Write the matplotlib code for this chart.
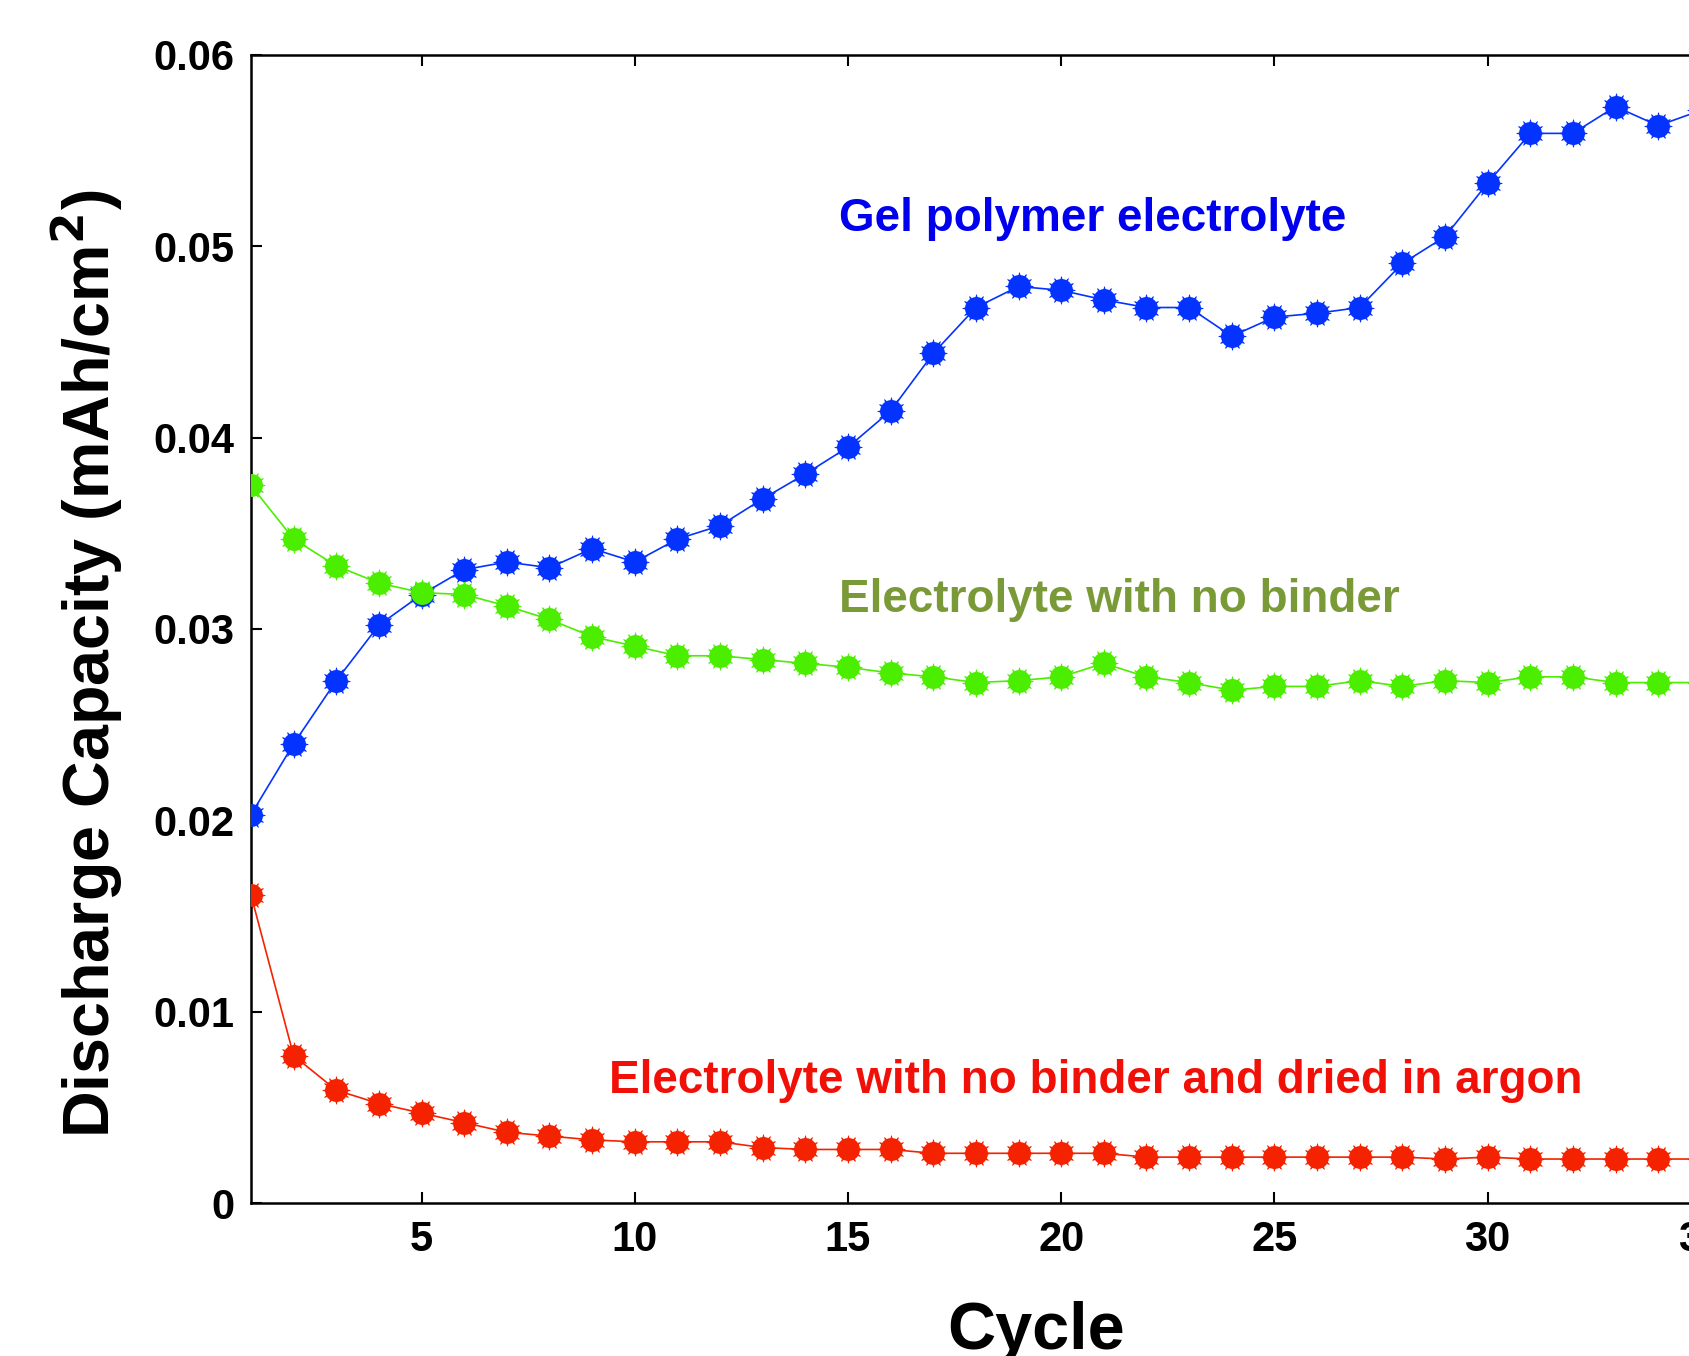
import matplotlib
matplotlib.use('Agg')
import matplotlib.pyplot as plt
from matplotlib.ticker import FixedLocator, FuncFormatter

# data
cycles = list(range(1, 36))
gel = [0.0203, 0.0240, 0.0273, 0.0302, 0.0318, 0.0331, 0.0335, 0.0332, 0.0342, 0.0335,
       0.0347, 0.0354, 0.0368, 0.0381, 0.0395, 0.0414, 0.0444, 0.0468, 0.0479, 0.0477,
       0.0472, 0.0468, 0.0468, 0.0453, 0.0463, 0.0465, 0.0468, 0.0491, 0.0505, 0.0533,
       0.0559, 0.0559, 0.0573, 0.0563, 0.0571]
no_binder = [0.0375, 0.0347, 0.0333, 0.0324, 0.0319, 0.0318, 0.0312, 0.0305, 0.0296, 0.0291,
             0.0286, 0.0286, 0.0284, 0.0282, 0.0280, 0.0277, 0.0275, 0.0272, 0.0273, 0.0275,
             0.0282, 0.0275, 0.0272, 0.0268, 0.0270, 0.0270, 0.0273, 0.0270, 0.0273, 0.0272,
             0.0275, 0.0275, 0.0272, 0.0272, 0.0272]
argon = [0.0161, 0.0077, 0.0059, 0.0052, 0.0047, 0.0042, 0.0037, 0.0035, 0.0033, 0.0032,
         0.0032, 0.0032, 0.0029, 0.0028, 0.0028, 0.0028, 0.0026, 0.0026, 0.0026, 0.0026,
         0.0026, 0.0024, 0.0024, 0.0024, 0.0024, 0.0024, 0.0024, 0.0024, 0.0023, 0.0024,
         0.0023, 0.0023, 0.0023, 0.0023, 0.0023]
x_ticks = [5, 10, 15, 20, 25, 30, 35]
y_ticks = [0, 0.01, 0.02, 0.03, 0.04, 0.05, 0.06]

series = [
    (gel, '#0433ff', 'Gel polymer electrolyte', '#0000ee', (14.8, 0.0514)),
    (no_binder, '#4cee00', 'Electrolyte with no binder', '#7a9a38', (14.8, 0.0315)),
    (argon, '#f52200', 'Electrolyte with no binder and dried in argon', '#f01008', (9.4, 0.0064)),
]

plt.rcParams['font.family'] = ['Liberation Sans', 'DejaVu Sans']

fig = plt.figure(figsize=(16.89, 13.56), dpi=100)
ax = fig.add_axes([0.1486, 0.1128, 0.8584, 0.8467])

for vals, col, label, tcol, pos in series:
    ax.plot(cycles, vals, color=col, lw=1.2, marker='o', ms=15, mec=col, mew=1.5, zorder=3)
    ax.plot(cycles, vals, ls='none', marker=(12, 1, 0), ms=20, color=col, mec=col, mew=0.5, zorder=2)
    ax.text(pos[0], pos[1], label, color=tcol, fontsize=33, fontweight='bold', va='center')

ax.set_xlim(1, 35)
ax.set_ylim(0, 0.06)
ax.xaxis.set_major_locator(FixedLocator(x_ticks))
ax.yaxis.set_major_locator(FixedLocator(y_ticks))
ax.yaxis.set_major_formatter(FuncFormatter(lambda v, p: '%g' % round(v, 3)))
ax.tick_params(direction='in', length=8, width=1.5, top=True, right=True, pad=12)
for lab in ax.get_xticklabels() + ax.get_yticklabels():
    lab.set_family(['Liberation Sans Narrow', 'Liberation Sans'])
    lab.set_fontweight('bold')
    lab.set_fontsize(30)
for s in ax.spines.values():
    s.set_linewidth(1.8)

ax.set_xlabel('Cycle', fontsize=48, fontweight='bold')
ax.xaxis.set_label_coords(0.5416, -0.085)
ax.set_ylabel('Discharge Capacity (mAh/cm$^\\mathbf{2}$)', fontsize=46.5, fontweight='bold')
ax.yaxis.set_label_coords(-0.087, 0.47)

plt.savefig('out.png', dpi=100)
